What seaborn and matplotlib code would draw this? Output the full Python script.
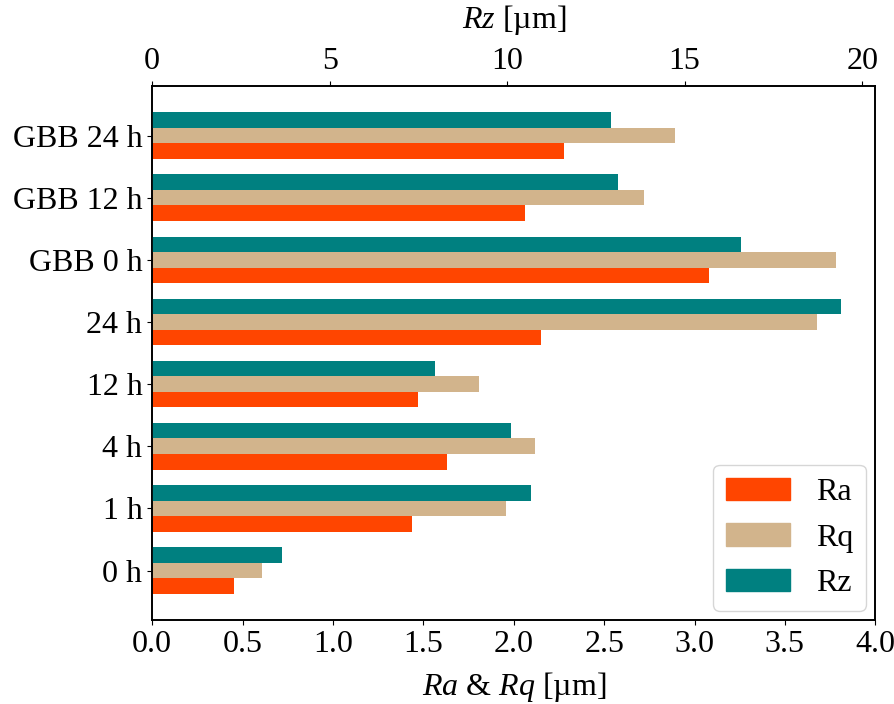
import matplotlib
matplotlib.use("Agg")
import matplotlib.pyplot as plt
import seaborn as sns
import pandas as pd

# roughness per sample
samples = ["0 h", "1 h", "4 h", "12 h", "24 h", "GBB 0 h", "GBB 12 h", "GBB 24 h"]
ra = [0.45, 1.44, 1.63, 1.47, 2.15, 3.08, 2.06, 2.28]
rq = [0.61, 1.96, 2.12, 1.81, 3.68, 3.78, 2.72, 2.89]
rz = [3.65, 10.67, 10.10, 7.98, 19.40, 16.58, 13.13, 12.93]

colors = {"Ra": "#FF4500", "Rq": "#D2B48C", "Rz": "#008080"}

plt.rcParams["font.family"] = "serif"
plt.rcParams["font.serif"] = ["Liberation Serif", "DejaVu Serif"]
plt.rcParams["mathtext.fontset"] = "custom"
plt.rcParams["mathtext.rm"] = "Liberation Serif"
plt.rcParams["mathtext.it"] = "Liberation Serif:italic"
plt.rcParams["font.size"] = 23

df = pd.DataFrame({"sample": samples * 3,
                   "param": ["Ra"] * 8 + ["Rq"] * 8 + ["Rz"] * 8,
                   "value": ra + rq + rz})

order = samples[::-1]          # top to bottom
hue_order = ["Rz", "Rq", "Ra"]  # top to bottom within a group

fig = plt.figure(figsize=(8.95, 7.04), dpi=100)
ax = fig.add_axes([0.170, 0.119, 0.808, 0.759])
ax2 = ax.twiny()

# Ra & Rq on the bottom axis, Rz on the top axis
sns.barplot(data=df[df.param != "Rz"], y="sample", x="value", hue="param",
            order=order, hue_order=hue_order, palette=colors, width=0.75,
            dodge=True, saturation=1, errorbar=None, linewidth=0,
            legend=False, ax=ax)
sns.barplot(data=df[df.param == "Rz"], y="sample", x="value", hue="param",
            order=order, hue_order=hue_order, palette=colors, width=0.75,
            dodge=True, saturation=1, errorbar=None, linewidth=0,
            legend=False, ax=ax2)

ax.set_xlim(0, 4)
ax.set_xticks([0, 0.5, 1, 1.5, 2, 2.5, 3, 3.5, 4])
ax.set_xticklabels([f"{v:.1f}" for v in ax.get_xticks()])
ax2.set_xlim(0, 20.37)
ax2.set_xticks([0, 5, 10, 15, 20])
ax.set_ylim(7.8, -0.8)

ax.set_xlabel("$Ra$ & $Rq$ [µm]", labelpad=8)
ax.set_ylabel("")
ax2.set_xlabel("$Rz$ [µm]", labelpad=14)
ax2.set_ylabel("")

for a in (ax, ax2):
    for s in a.spines.values():
        s.set_linewidth(1.2)

handles = [plt.Rectangle((0, 0), 1, 1, color=colors[k]) for k in ["Ra", "Rq", "Rz"]]
ax2.legend(handles, ["Ra", "Rq", "Rz"], loc="lower right", borderaxespad=0.3)

fig.savefig("out.png", dpi=100)
